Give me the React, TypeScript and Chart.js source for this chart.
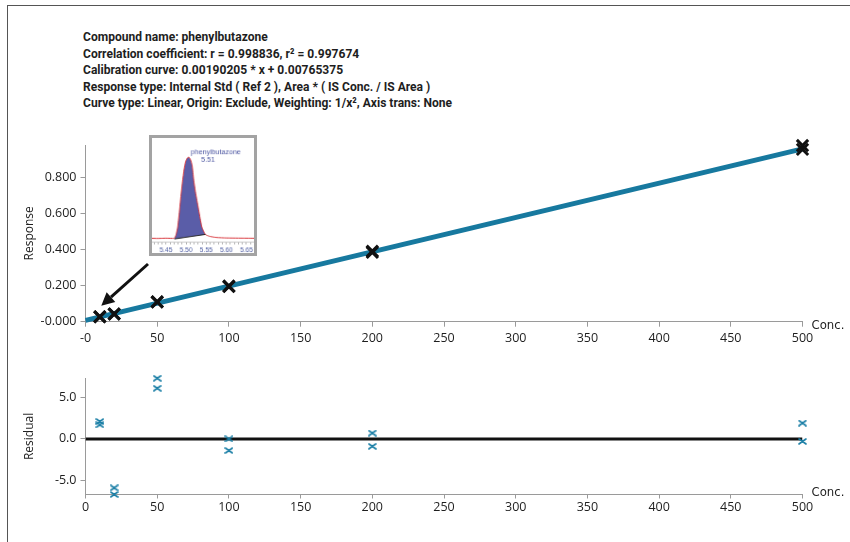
import React, { useEffect, useRef } from 'react';
import { Chart, registerables } from 'chart.js';

Chart.register(...registerables);

// ---------- data ----------
const concentrations = [10, 10, 20, 20, 50, 50, 100, 100, 200, 200, 500, 500];
const responses = [0.0273, 0.0272, 0.043, 0.0426, 0.1103, 0.1091, 0.1978, 0.195, 0.3908, 0.3846, 0.9769, 0.9558];
const residuals = [2.1, 1.7, -5.9, -6.7, 7.3, 6.1, 0.0, -1.4, 0.7, -0.9, 1.9, -0.3];
const curveConc = [0, 500];
const curveResponse = [0.0077, 0.9588];
const zeroConc = [0, 500];
const zeroResidual = [0, 0];
const concTicks = [0, 50, 100, 150, 200, 250, 300, 350, 400, 450, 500];
const concTickLabelsTop = ['-0', '50', '100', '150', '200', '250', '300', '350', '400', '450', '500'];
const concTickLabelsBottom = ['0', '50', '100', '150', '200', '250', '300', '350', '400', '450', '500'];
const responseTicks = [0, 0.2, 0.4, 0.6, 0.8];
const responseTickLabels = ['-0.000', '0.200', '0.400', '0.600', '0.800'];
const residualTicks = [-5, 0, 5];
const residualTickLabels = ['-5.0', '0.0', '5.0'];

// inset chromatogram
const peakTimes = [5.41, 5.43, 5.45, 5.465, 5.471, 5.475, 5.479, 5.483, 5.487, 5.491, 5.495, 5.499, 5.503, 5.507, 5.511, 5.515, 5.519, 5.523, 5.527, 5.531, 5.535, 5.539, 5.543, 5.547, 5.551, 5.56, 5.575, 5.6, 5.63, 5.67];
const peakIntensity = [0.8, 0.6, 0.9, 0.7, 1, 5, 14, 32, 52, 70, 85, 95, 99, 100, 97, 90, 72, 58, 47, 36, 25, 15, 10, 6, 4.5, 3, 1.8, 1.2, 1.0, 0.8];
const integrationTimes = [5.471, 5.548];
const integrationLevels = [0, 5.5];
const insetLabelTimes = [5.45, 5.5, 5.55, 5.6, 5.65];
const insetLabelTexts = ['5.45', '5.50', '5.55', '5.60', '5.65'];
const peakName = 'phenylbutazone';
const peakRT = '5.51';
const apexTime = 5.507;
const apexIntensity = 100;

const titleLines = [
  'Compound name: phenylbutazone',
  'Correlation coefficient: r = 0.998836, r\u00B2 = 0.997674',
  'Calibration curve: 0.00190205 * x + 0.00765375',
  'Response type: Internal Std ( Ref 2 ), Area * ( IS Conc. / IS Area )',
  'Curve type: Linear, Origin: Exclude, Weighting: 1/x\u00B2, Axis trans: None',
];

// ---------- styles ----------
const TEAL = '#17799f';
const RES_BLUE = '#1b7fa6';
const AXIS_GRAY = '#9a9a9a';
const TEXT = '#1e1e1e';
const TICK_FONT = { family: '"Open Sans", "DejaVu Sans", sans-serif', size: 12.5 };
const COND_FONT = '"DejaVu Sans Condensed", sans-serif';
const TITLE_FONT = 'Roboto, "Noto Sans", sans-serif';
const TITLE_WIDTH = 369;

const concPlugin = {
  id: 'concLabel',
  afterDraw(chart: any, _args: any, opts: any) {
    const x = chart.scales.x;
    const ctx = chart.ctx;
    ctx.save();
    ctx.font = `13px ${COND_FONT}`;
    ctx.fillStyle = TEXT;
    ctx.textBaseline = 'middle';
    ctx.textAlign = 'left';
    ctx.fillText('Conc.', x.right + 9, x.top + (opts.dy || 0));
    ctx.restore();
  },
};

const arrowPlugin = {
  id: 'arrow',
  afterDatasetsDraw(chart: any, _args: any, opts: any) {
    if (!opts.from) return;
    const { x, y } = chart.scales;
    const x1 = x.getPixelForValue(opts.from[0]);
    const y1 = y.getPixelForValue(opts.from[1]);
    const x2 = x.getPixelForValue(opts.to[0]);
    const y2 = y.getPixelForValue(opts.to[1]);
    const ang = Math.atan2(y2 - y1, x2 - x1);
    const headLen = 13;
    const headW = 6.5;
    const bx = x2 - headLen * Math.cos(ang);
    const by = y2 - headLen * Math.sin(ang);
    const ctx = chart.ctx;
    ctx.save();
    ctx.strokeStyle = '#111';
    ctx.fillStyle = '#111';
    ctx.lineWidth = 3;
    ctx.beginPath();
    ctx.moveTo(x1, y1);
    ctx.lineTo(bx, by);
    ctx.stroke();
    ctx.beginPath();
    ctx.moveTo(x2, y2);
    ctx.lineTo(bx + headW * Math.sin(ang), by - headW * Math.cos(ang));
    ctx.lineTo(bx - headW * Math.sin(ang), by + headW * Math.cos(ang));
    ctx.closePath();
    ctx.fill();
    ctx.restore();
  },
};

const peakLabelPlugin = {
  id: 'peakLabel',
  afterDraw(chart: any) {
    const { x, y } = chart.scales;
    const px = x.getPixelForValue(apexTime);
    const py = y.getPixelForValue(apexIntensity);
    const ctx = chart.ctx;
    ctx.save();
    ctx.fillStyle = '#4a54a0';
    ctx.font = '7.5px "Liberation Sans", Arial, sans-serif';
    ctx.textBaseline = 'middle';
    ctx.textAlign = 'left';
    ctx.fillText(peakName, px + 2, py - 5.5);
    ctx.fillText(peakRT, px + 13, py + 2.5);
    ctx.restore();
  },
};

function makeXMarker(w: number, h: number, color: string, lw: number) {
  const c = document.createElement('canvas');
  c.width = w;
  c.height = h;
  const g = c.getContext('2d')!;
  g.strokeStyle = color;
  g.lineWidth = lw;
  g.lineCap = 'round';
  g.beginPath();
  g.moveTo(1, 1);
  g.lineTo(w - 1, h - 1);
  g.moveTo(w - 1, 1);
  g.lineTo(1, h - 1);
  g.stroke();
  return c;
}

function axisCommon(tickLength: number) {
  return {
    grid: { display: true, drawOnChartArea: false, drawTicks: true, tickLength, color: AXIS_GRAY, lineWidth: 1 },
    border: { display: true, color: AXIS_GRAY, width: 1 },
  };
}

export default function App() {
  const topRef = useRef<HTMLCanvasElement>(null);
  const resRef = useRef<HTMLCanvasElement>(null);
  const insetRef = useRef<HTMLCanvasElement>(null);
  const titleRef = useRef<HTMLDivElement>(null);

  useEffect(() => {
    // fit the header text block to the reference width
    const t = titleRef.current;
    if (t) {
      t.style.transform = 'none';
      const w = t.getBoundingClientRect().width;
      if (w > 0) t.style.transform = `scaleX(${TITLE_WIDTH / w})`;
    }

    const charts: Chart[] = [];

    // ---------- calibration chart ----------
    charts.push(
      new Chart(topRef.current!, {
        type: 'scatter',
        data: {
          datasets: [
            {
              type: 'line',
              data: curveConc.map((c, i) => ({ x: c, y: curveResponse[i] })),
              borderColor: TEAL,
              borderWidth: 5,
              pointRadius: 0,
              order: 2,
              clip: false as any,
            } as any,
            {
              type: 'scatter',
              data: concentrations.map((c, i) => ({ x: c, y: responses[i] })),
              pointStyle: 'crossRot',
              pointRadius: 8,
              borderWidth: 3,
              borderColor: '#111',
              backgroundColor: '#111',
              order: 1,
              clip: false as any,
            } as any,
          ],
        },
        options: {
          animation: false,
          responsive: false,
          events: [],
          layout: { padding: { left: 0, right: 47.5, top: 145, bottom: 0 } },
          plugins: {
            legend: { display: false },
            tooltip: { enabled: false },
            concLabel: { dy: 3.5 },
            arrow: { from: [43.6, 0.32], to: [11.0, 0.088] },
          } as any,
          scales: {
            x: {
              type: 'linear',
              min: 0,
              max: 500,
              afterBuildTicks: (s: any) => { s.ticks = concTicks.map((v) => ({ value: v })); },
              afterFit: (s: any) => { s.height = 350 - 321.7; },
              ticks: {
                autoSkip: false,
                maxRotation: 0,
                padding: 4,
                color: TEXT,
                font: TICK_FONT,
                callback: (_v: any, i: number) => concTickLabelsTop[i],
              },
              ...axisCommon(5),
            } as any,
            y: {
              type: 'linear',
              min: 0,
              max: 0.98,
              afterBuildTicks: (s: any) => { s.ticks = responseTicks.map((v) => ({ value: v })); },
              afterFit: (s: any) => { s.width = 85.5; },
              ticks: {
                autoSkip: false,
                padding: 4,
                color: TEXT,
                font: TICK_FONT,
                callback: (_v: any, i: number) => responseTickLabels[i],
              },
              title: {
                display: true,
                text: 'Response',
                color: TEXT,
                font: { family: TICK_FONT.family, size: 12 },
                padding: { top: 22, bottom: 0 },
              },
              ...axisCommon(5),
            } as any,
          },
        },
        plugins: [concPlugin, arrowPlugin],
      })
    );

    // ---------- residual chart ----------
    const resMarker = makeXMarker(9, 7, RES_BLUE, 1.6);
    charts.push(
      new Chart(resRef.current!, {
        type: 'scatter',
        data: {
          datasets: [
            {
              type: 'line',
              data: zeroConc.map((c, i) => ({ x: c, y: zeroResidual[i] })),
              borderColor: '#111',
              borderWidth: 3,
              pointRadius: 0,
              order: 2,
            } as any,
            {
              type: 'scatter',
              data: concentrations.map((c, i) => ({ x: c, y: residuals[i] })),
              pointStyle: resMarker,
              pointRadius: 4,
              order: 1,
              clip: false as any,
            } as any,
          ],
        },
        options: {
          animation: false,
          responsive: false,
          events: [],
          layout: { padding: { left: 0, right: 47.5, top: 28.3, bottom: 0 } },
          plugins: {
            legend: { display: false },
            tooltip: { enabled: false },
            concLabel: { dy: -2 },
          } as any,
          scales: {
            x: {
              type: 'linear',
              min: 0,
              max: 500,
              afterBuildTicks: (s: any) => { s.ticks = concTicks.map((v) => ({ value: v })); },
              afterFit: (s: any) => { s.height = 192 - (494.5 - 350); },
              ticks: {
                autoSkip: false,
                maxRotation: 0,
                padding: 1.5,
                color: TEXT,
                font: TICK_FONT,
                callback: (_v: any, i: number) => concTickLabelsBottom[i],
              },
              ...axisCommon(4),
            } as any,
            y: {
              type: 'linear',
              min: -6.7,
              max: 7.3,
              afterBuildTicks: (s: any) => { s.ticks = residualTicks.map((v) => ({ value: v })); },
              afterFit: (s: any) => { s.width = 85.5; },
              ticks: {
                autoSkip: false,
                padding: 4,
                color: TEXT,
                font: TICK_FONT,
                callback: (_v: any, i: number) => residualTickLabels[i],
              },
              title: {
                display: true,
                text: 'Residual',
                color: TEXT,
                font: { family: TICK_FONT.family, size: 12 },
                padding: { top: 22, bottom: 0 },
              },
              ...axisCommon(5),
            } as any,
          },
        },
        plugins: [concPlugin],
      })
    );

    // ---------- inset chromatogram ----------
    const fillPoints = peakTimes
      .map((t, i) => ({ x: t, y: peakIntensity[i] }))
      .filter((p) => p.x > integrationTimes[0] && p.x < integrationTimes[1]);
    fillPoints.unshift({ x: integrationTimes[0], y: integrationLevels[0] });
    fillPoints.push({ x: integrationTimes[1], y: integrationLevels[1] });
    const minorTicks: number[] = [];
    for (let k = 542; k <= 566; k++) minorTicks.push(k / 100);

    charts.push(
      new Chart(insetRef.current!, {
        type: 'line',
        data: {
          datasets: [
            {
              data: integrationTimes.map((t, i) => ({ x: t, y: integrationLevels[i] })),
              borderColor: '#222',
              borderWidth: 1,
              pointRadius: 0,
              order: 0,
            },
            {
              data: fillPoints,
              borderWidth: 0,
              borderColor: 'rgba(0,0,0,0)',
              backgroundColor: '#5a5da8',
              fill: '-1',
              pointRadius: 0,
              order: 2,
            },
            {
              data: peakTimes.map((t, i) => ({ x: t, y: peakIntensity[i] })),
              borderColor: '#d8343a',
              borderWidth: 1,
              pointRadius: 0,
              tension: 0.2,
              order: 1,
            },
          ] as any,
        },
        options: {
          animation: false,
          responsive: false,
          events: [],
          layout: { padding: 0, autoPadding: false },
          plugins: { legend: { display: false }, tooltip: { enabled: false } },
          scales: {
            x: {
              type: 'linear',
              min: 5.4153,
              max: 5.6688,
              afterBuildTicks: (s: any) => { s.ticks = minorTicks.map((v) => ({ value: v })); },
              afterFit: (s: any) => { s.height = 12; },
              ticks: {
                autoSkip: false,
                maxRotation: 0,
                padding: 2,
                color: '#4a5aa0',
                font: { family: '"Liberation Sans", Arial, sans-serif', size: 7 },
                callback: (v: any) => {
                  const idx = insetLabelTimes.findIndex((t) => Math.abs(t - v) < 1e-6);
                  return idx >= 0 ? insetLabelTexts[idx] : '';
                },
              },
              grid: { display: true, drawOnChartArea: false, drawTicks: true, tickLength: 3, color: '#b0b0b0' },
              border: { display: true, color: '#c8c8c8' },
            } as any,
            y: { type: 'linear', min: -3.3, max: 123.4, display: false },
          },
        },
        plugins: [peakLabelPlugin],
      })
    );

    return () => charts.forEach((c) => c.destroy());
  }, []);

  return (
    <div style={{ position: 'fixed', left: 0, top: 0, width: 850, height: 542, background: '#fff', overflow: 'hidden' }}>
      <div style={{ position: 'absolute', left: 7, top: 5, width: 860, height: 560, borderLeft: '1.5px solid #555', borderTop: '1.5px solid #555' }} />
      <div
        ref={titleRef}
        style={{
          position: 'absolute',
          left: 83,
          top: 28,
          display: 'inline-block',
          font: `700 13.5px ${TITLE_FONT}`,
          lineHeight: '16.6px',
          color: TEXT,
          whiteSpace: 'pre',
          transformOrigin: 'left top',
        }}
      >
        {titleLines.map((l, i) => (
          <div key={i}>{l}</div>
        ))}
      </div>
      <canvas ref={topRef} width={850} height={350} style={{ position: 'absolute', left: 0, top: 0, width: 850, height: 350 }} />
      <canvas ref={resRef} width={850} height={192} style={{ position: 'absolute', left: 0, top: 350, width: 850, height: 192 }} />
      <canvas
        ref={insetRef}
        width={108}
        height={121}
        style={{ position: 'absolute', left: 149, top: 135, width: 108, height: 121, border: '3px solid #a3a3a3', background: '#fff' }}
      />
    </div>
  );
}
